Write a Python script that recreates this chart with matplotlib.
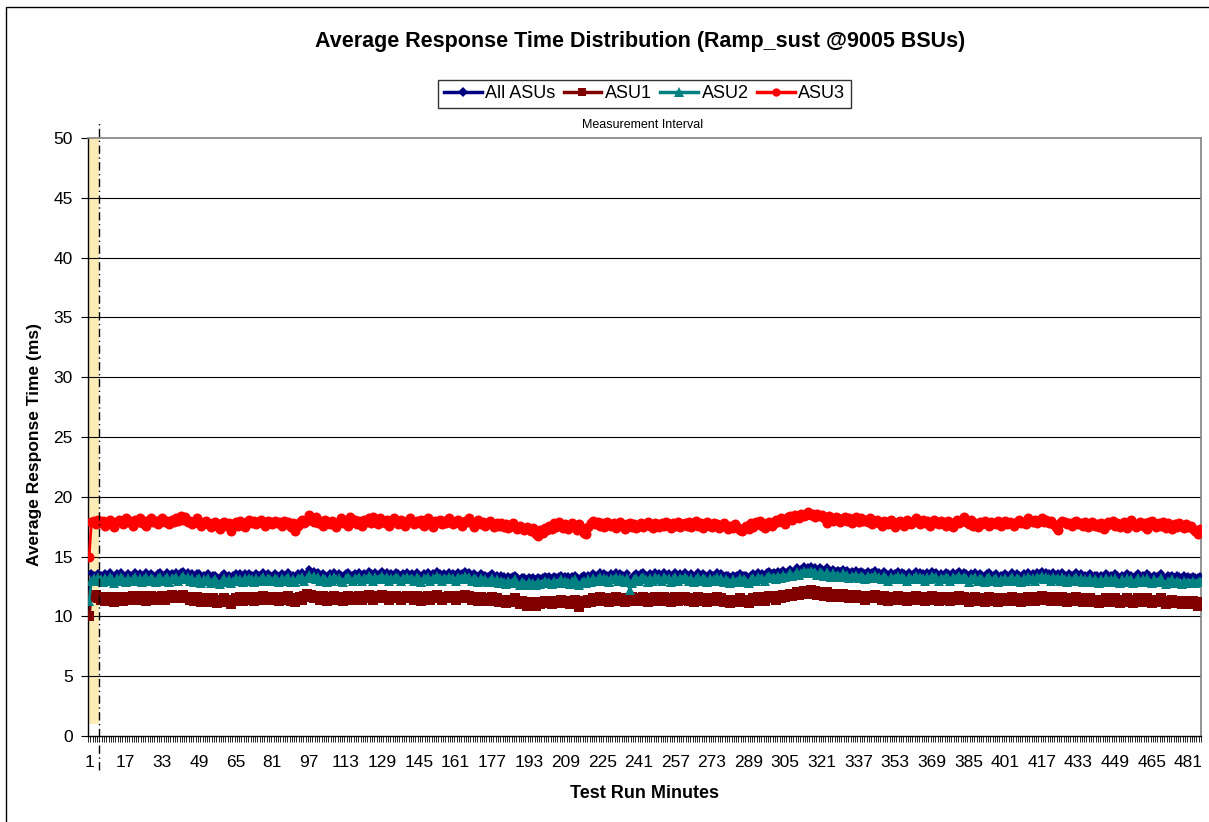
import matplotlib
matplotlib.use("Agg")
import matplotlib.pyplot as plt
from matplotlib.patches import Rectangle

plt.rcParams['font.family'] = ['Liberation Sans', 'DejaVu Sans']

title = "Average Response Time Distribution (Ramp_sust @9005 BSUs)"
xlabel = "Test Run Minutes"
ylabel = "Average Response Time (ms)"
interval_label = "Measurement Interval"
series_names = ["All ASUs", "ASU1", "ASU2", "ASU3"]
ramp_minutes = 5
band_low, band_high = 1, 50

all_asus = [
    11.5, 13.6, 13.5, 13.4, 13.6, 13.5, 13.3, 13.6, 13.4, 13.7, 13.5, 13.3, 13.6, 13.4, 13.7, 13.5, 13.3, 13.6, 13.5, 13.5,
    13.7, 13.4, 13.6, 13.4, 13.5, 13.7, 13.4, 13.6, 13.5, 13.4, 13.6, 13.7, 13.5, 13.5, 13.7, 13.4, 13.6, 13.5, 13.7, 13.5,
    13.7, 13.8, 13.5, 13.7, 13.4, 13.6, 13.3, 13.6, 13.6, 13.3, 13.5, 13.4, 13.6, 13.3, 13.5, 13.5, 13.3, 13.2, 13.5, 13.6,
    13.4, 13.5, 13.2, 13.5, 13.6, 13.4, 13.6, 13.4, 13.6, 13.5, 13.6, 13.5, 13.4, 13.6, 13.5, 13.5, 13.7, 13.4, 13.6, 13.5,
    13.4, 13.6, 13.5, 13.4, 13.6, 13.5, 13.5, 13.7, 13.4, 13.5, 13.3, 13.6, 13.5, 13.7, 13.5, 13.6, 14.0, 13.7, 13.8, 13.6,
    13.7, 13.5, 13.6, 13.5, 13.4, 13.6, 13.5, 13.7, 13.5, 13.6, 13.5, 13.4, 13.6, 13.7, 13.5, 13.5, 13.6, 13.5, 13.7, 13.5,
    13.6, 13.5, 13.8, 13.6, 13.5, 13.7, 13.5, 13.6, 13.8, 13.5, 13.7, 13.5, 13.6, 13.5, 13.7, 13.6, 13.5, 13.6, 13.5, 13.7,
    13.5, 13.6, 13.5, 13.7, 13.5, 13.4, 13.6, 13.5, 13.7, 13.5, 13.6, 13.5, 13.8, 13.6, 13.5, 13.6, 13.5, 13.7, 13.5, 13.6,
    13.5, 13.7, 13.5, 13.6, 13.8, 13.5, 13.7, 13.5, 13.6, 13.5, 13.4, 13.6, 13.5, 13.5, 13.4, 13.5, 13.6, 13.4, 13.5, 13.3,
    13.5, 13.4, 13.2, 13.4, 13.3, 13.4, 13.5, 13.3, 13.1, 13.3, 13.3, 13.1, 13.3, 13.2, 13.3, 13.1, 13.3, 13.2, 13.3, 13.4,
    13.3, 13.4, 13.2, 13.4, 13.3, 13.4, 13.5, 13.3, 13.4, 13.4, 13.2, 13.4, 13.5, 13.3, 13.1, 13.4, 13.5, 13.3, 13.5, 13.4,
    13.6, 13.5, 13.5, 13.7, 13.5, 13.6, 13.5, 13.4, 13.6, 13.5, 13.7, 13.5, 13.6, 13.5, 13.4, 13.6, 13.0, 13.3, 13.5, 13.6,
    13.5, 13.6, 13.7, 13.5, 13.4, 13.6, 13.5, 13.7, 13.5, 13.6, 13.5, 13.7, 13.5, 13.6, 13.4, 13.5, 13.7, 13.5, 13.6, 13.5,
    13.7, 13.5, 13.5, 13.6, 13.4, 13.5, 13.7, 13.5, 13.6, 13.5, 13.4, 13.6, 13.5, 13.5, 13.7, 13.5, 13.6, 13.4, 13.5, 13.5,
    13.3, 13.5, 13.4, 13.5, 13.6, 13.4, 13.5, 13.5, 13.3, 13.5, 13.6, 13.5, 13.7, 13.5, 13.6, 13.5, 13.7, 13.8, 13.6, 13.7,
    13.6, 13.8, 13.7, 13.9, 13.7, 13.8, 14.0, 13.8, 13.9, 14.1, 13.9, 14.0, 14.2, 14.0, 14.1, 14.2, 14.0, 14.1, 13.9, 14.1,
    14.0, 13.8, 14.1, 13.9, 13.8, 14.0, 13.8, 13.9, 13.8, 14.0, 13.8, 13.9, 13.7, 13.8, 13.7, 13.9, 13.7, 13.8, 13.7, 13.6,
    13.8, 13.6, 13.7, 13.9, 13.6, 13.7, 13.5, 13.8, 13.6, 13.5, 13.7, 13.5, 13.6, 13.8, 13.5, 13.7, 13.6, 13.5, 13.7, 13.5,
    13.6, 13.8, 13.5, 13.7, 13.6, 13.5, 13.7, 13.5, 13.8, 13.6, 13.7, 13.5, 13.6, 13.5, 13.7, 13.6, 13.5, 13.7, 13.5, 13.6,
    13.8, 13.5, 13.7, 13.6, 13.4, 13.6, 13.5, 13.7, 13.5, 13.6, 13.5, 13.4, 13.6, 13.7, 13.5, 13.5, 13.6, 13.4, 13.5, 13.5,
    13.6, 13.5, 13.5, 13.7, 13.5, 13.6, 13.5, 13.4, 13.6, 13.5, 13.7, 13.5, 13.6, 13.5, 13.7, 13.6, 13.8, 13.5, 13.7, 13.6,
    13.5, 13.7, 13.5, 13.6, 13.5, 13.7, 13.5, 13.4, 13.6, 13.5, 13.5, 13.7, 13.5, 13.6, 13.4, 13.5, 13.5, 13.6, 13.4, 13.5,
    13.5, 13.3, 13.5, 13.4, 13.6, 13.5, 13.5, 13.4, 13.6, 13.5, 13.3, 13.5, 13.4, 13.6, 13.5, 13.5, 13.3, 13.5, 13.6, 13.4,
    13.5, 13.4, 13.6, 13.5, 13.3, 13.5, 13.4, 13.5, 13.6, 13.4, 13.2, 13.5, 13.4, 13.5, 13.3, 13.5, 13.4, 13.3, 13.5, 13.3,
    13.4, 13.3, 13.4, 13.3, 13.3, 13.4,
]

asu1 = [
    10.0, 11.7, 11.6, 11.8, 11.5, 11.4, 11.6, 11.3, 11.5, 11.4, 11.6, 11.2, 11.5, 11.6, 11.4, 11.3, 11.5, 11.6, 11.4, 11.7,
    11.5, 11.6, 11.4, 11.7, 11.5, 11.3, 11.6, 11.7, 11.5, 11.4, 11.6, 11.5, 11.7, 11.4, 11.6, 11.5, 11.8, 11.6, 11.5, 11.7,
    11.6, 11.8, 11.5, 11.6, 11.4, 11.5, 11.3, 11.6, 11.4, 11.2, 11.5, 11.3, 11.4, 11.2, 11.5, 11.3, 11.1, 11.4, 11.2, 11.5,
    11.3, 11.4, 11.0, 11.3, 11.5, 11.4, 11.6, 11.3, 11.5, 11.4, 11.6, 11.5, 11.3, 11.6, 11.4, 11.5, 11.7, 11.4, 11.6, 11.5,
    11.4, 11.6, 11.5, 11.3, 11.6, 11.4, 11.5, 11.7, 11.3, 11.5, 11.2, 11.5, 11.6, 11.4, 11.7, 11.9, 11.6, 11.8, 11.5, 11.7,
    11.6, 11.4, 11.7, 11.5, 11.3, 11.6, 11.5, 11.7, 11.4, 11.6, 11.5, 11.3, 11.6, 11.7, 11.5, 11.4, 11.6, 11.5, 11.7, 11.4,
    11.6, 11.5, 11.8, 11.6, 11.4, 11.7, 11.5, 11.6, 11.8, 11.5, 11.7, 11.4, 11.6, 11.5, 11.7, 11.6, 11.4, 11.6, 11.5, 11.7,
    11.5, 11.6, 11.4, 11.7, 11.5, 11.3, 11.6, 11.5, 11.7, 11.4, 11.6, 11.5, 11.8, 11.6, 11.4, 11.6, 11.5, 11.7, 11.5, 11.6,
    11.4, 11.7, 11.5, 11.6, 11.8, 11.5, 11.7, 11.4, 11.6, 11.5, 11.3, 11.6, 11.4, 11.5, 11.3, 11.4, 11.6, 11.3, 11.5, 11.2,
    11.4, 11.3, 11.1, 11.4, 11.2, 11.3, 11.5, 11.2, 11.0, 11.3, 11.1, 10.9, 11.2, 11.0, 11.1, 10.9, 11.2, 11.0, 11.1, 11.3,
    11.1, 11.2, 11.0, 11.3, 11.1, 11.2, 11.4, 11.1, 11.3, 11.2, 11.0, 11.3, 11.4, 11.1, 10.8, 11.2, 11.3, 11.1, 11.4, 11.2,
    11.5, 11.3, 11.4, 11.6, 11.3, 11.5, 11.4, 11.2, 11.5, 11.4, 11.6, 11.3, 11.5, 11.4, 11.2, 11.5, 11.3, 11.6, 11.4, 11.5,
    11.3, 11.5, 11.6, 11.4, 11.2, 11.5, 11.3, 11.6, 11.4, 11.5, 11.3, 11.6, 11.4, 11.5, 11.2, 11.4, 11.6, 11.3, 11.5, 11.4,
    11.6, 11.4, 11.3, 11.5, 11.2, 11.4, 11.6, 11.3, 11.5, 11.4, 11.2, 11.5, 11.3, 11.4, 11.6, 11.3, 11.5, 11.2, 11.4, 11.3,
    11.1, 11.4, 11.2, 11.3, 11.5, 11.2, 11.4, 11.3, 11.1, 11.4, 11.5, 11.3, 11.6, 11.4, 11.5, 11.3, 11.6, 11.7, 11.5, 11.6,
    11.4, 11.7, 11.5, 11.8, 11.6, 11.7, 11.9, 11.7, 11.8, 12.0, 11.8, 11.9, 12.1, 11.9, 12.0, 12.2, 11.9, 12.1, 11.8, 12.0,
    11.9, 11.7, 12.0, 11.8, 11.6, 11.9, 11.7, 11.8, 11.6, 11.9, 11.7, 11.8, 11.5, 11.7, 11.6, 11.8, 11.5, 11.7, 11.6, 11.4,
    11.7, 11.5, 11.6, 11.8, 11.5, 11.6, 11.4, 11.7, 11.5, 11.3, 11.6, 11.4, 11.5, 11.7, 11.4, 11.6, 11.5, 11.3, 11.6, 11.4,
    11.5, 11.7, 11.4, 11.6, 11.5, 11.3, 11.6, 11.4, 11.7, 11.5, 11.6, 11.3, 11.5, 11.4, 11.6, 11.5, 11.3, 11.6, 11.4, 11.5,
    11.7, 11.4, 11.6, 11.5, 11.2, 11.5, 11.4, 11.6, 11.3, 11.5, 11.4, 11.2, 11.5, 11.6, 11.3, 11.4, 11.5, 11.2, 11.4, 11.3,
    11.5, 11.3, 11.4, 11.6, 11.3, 11.5, 11.4, 11.2, 11.5, 11.3, 11.6, 11.4, 11.5, 11.3, 11.6, 11.5, 11.7, 11.4, 11.6, 11.5,
    11.3, 11.6, 11.4, 11.5, 11.3, 11.6, 11.4, 11.2, 11.5, 11.3, 11.4, 11.6, 11.3, 11.5, 11.2, 11.4, 11.3, 11.5, 11.2, 11.4,
    11.3, 11.1, 11.4, 11.2, 11.5, 11.3, 11.4, 11.2, 11.5, 11.3, 11.1, 11.4, 11.2, 11.5, 11.3, 11.4, 11.1, 11.3, 11.5, 11.2,
    11.4, 11.2, 11.5, 11.3, 11.1, 11.4, 11.2, 11.3, 11.5, 11.2, 11.0, 11.3, 11.2, 11.4, 11.1, 11.3, 11.2, 11.0, 11.3, 11.1,
    11.2, 11.0, 11.3, 11.1, 10.9, 11.2,
]

asu2 = [
    11.3, 13.0, 13.2, 13.0, 13.3, 13.1, 12.9, 13.2, 13.0, 13.3, 13.1, 12.8, 13.2, 13.0, 13.3, 13.1, 12.9, 13.2, 13.0, 13.1,
    13.3, 13.0, 13.2, 12.9, 13.1, 13.3, 13.0, 13.2, 13.1, 12.9, 13.2, 13.3, 13.0, 13.1, 13.3, 12.9, 13.2, 13.1, 13.3, 13.0,
    13.2, 13.4, 13.1, 13.3, 13.0, 13.2, 12.9, 13.1, 13.2, 12.8, 13.1, 13.0, 13.2, 12.8, 13.0, 13.1, 12.9, 12.7, 13.0, 13.2,
    12.9, 13.1, 12.8, 13.0, 13.2, 13.0, 13.1, 12.9, 13.2, 13.0, 13.2, 13.1, 12.9, 13.2, 13.0, 13.1, 13.3, 13.0, 13.2, 13.1,
    13.0, 13.2, 13.1, 12.9, 13.2, 13.0, 13.1, 13.3, 12.9, 13.1, 12.9, 13.2, 13.1, 13.3, 13.0, 13.2, 13.5, 13.2, 13.4, 13.1,
    13.3, 13.0, 13.2, 13.1, 12.9, 13.2, 13.0, 13.3, 13.1, 13.2, 13.0, 12.9, 13.2, 13.3, 13.1, 13.0, 13.2, 13.1, 13.3, 13.0,
    13.2, 13.1, 13.4, 13.2, 13.0, 13.3, 13.1, 13.2, 13.4, 13.1, 13.3, 13.0, 13.2, 13.1, 13.3, 13.2, 13.0, 13.2, 13.1, 13.3,
    13.1, 13.2, 13.0, 13.3, 13.1, 12.9, 13.2, 13.1, 13.3, 13.0, 13.2, 13.1, 13.4, 13.2, 13.0, 13.2, 13.1, 13.3, 13.1, 13.2,
    13.0, 13.3, 13.1, 13.2, 13.4, 13.1, 13.3, 13.0, 13.2, 13.1, 12.9, 13.2, 13.0, 13.1, 12.9, 13.0, 13.2, 12.9, 13.1, 12.8,
    13.0, 12.9, 12.7, 13.0, 12.8, 12.9, 13.1, 12.8, 12.6, 12.9, 12.8, 12.6, 12.9, 12.7, 12.8, 12.6, 12.9, 12.7, 12.8, 13.0,
    12.8, 12.9, 12.7, 13.0, 12.8, 12.9, 13.1, 12.8, 13.0, 12.9, 12.7, 13.0, 13.1, 12.8, 12.6, 12.9, 13.0, 12.8, 13.1, 12.9,
    13.2, 13.0, 13.1, 13.3, 13.0, 13.2, 13.1, 12.9, 13.2, 13.1, 13.3, 13.0, 13.2, 13.1, 12.9, 13.2, 12.2, 12.8, 13.1, 13.2,
    13.0, 13.2, 13.3, 13.1, 12.9, 13.2, 13.0, 13.3, 13.1, 13.2, 13.0, 13.3, 13.1, 13.2, 12.9, 13.1, 13.3, 13.0, 13.2, 13.1,
    13.3, 13.1, 13.0, 13.2, 12.9, 13.1, 13.3, 13.0, 13.2, 13.1, 12.9, 13.2, 13.0, 13.1, 13.3, 13.0, 13.2, 12.9, 13.1, 13.0,
    12.8, 13.1, 12.9, 13.0, 13.2, 12.9, 13.1, 13.0, 12.8, 13.1, 13.2, 13.0, 13.3, 13.1, 13.2, 13.0, 13.3, 13.4, 13.2, 13.3,
    13.1, 13.4, 13.2, 13.5, 13.3, 13.4, 13.6, 13.4, 13.5, 13.7, 13.5, 13.6, 13.8, 13.6, 13.7, 13.8, 13.6, 13.7, 13.5, 13.7,
    13.6, 13.4, 13.7, 13.5, 13.3, 13.6, 13.4, 13.5, 13.3, 13.6, 13.4, 13.5, 13.2, 13.4, 13.3, 13.5, 13.2, 13.4, 13.3, 13.1,
    13.4, 13.2, 13.3, 13.5, 13.2, 13.3, 13.1, 13.4, 13.2, 13.0, 13.3, 13.1, 13.2, 13.4, 13.1, 13.3, 13.2, 13.0, 13.3, 13.1,
    13.2, 13.4, 13.1, 13.3, 13.2, 13.0, 13.3, 13.1, 13.4, 13.2, 13.3, 13.0, 13.2, 13.1, 13.3, 13.2, 13.0, 13.3, 13.1, 13.2,
    13.4, 13.1, 13.3, 13.2, 12.9, 13.2, 13.1, 13.3, 13.0, 13.2, 13.1, 12.9, 13.2, 13.3, 13.0, 13.1, 13.2, 12.9, 13.1, 13.0,
    13.2, 13.0, 13.1, 13.3, 13.0, 13.2, 13.1, 12.9, 13.2, 13.0, 13.3, 13.1, 13.2, 13.0, 13.3, 13.2, 13.4, 13.1, 13.3, 13.2,
    13.0, 13.3, 13.1, 13.2, 13.0, 13.3, 13.1, 12.9, 13.2, 13.0, 13.1, 13.3, 13.0, 13.2, 12.9, 13.1, 13.0, 13.2, 12.9, 13.1,
    13.0, 12.8, 13.1, 12.9, 13.2, 13.0, 13.1, 12.9, 13.2, 13.0, 12.8, 13.1, 12.9, 13.2, 13.0, 13.1, 12.8, 13.0, 13.2, 12.9,
    13.1, 12.9, 13.2, 13.0, 12.8, 13.1, 12.9, 13.0, 13.2, 12.9, 12.7, 13.0, 12.9, 13.1, 12.8, 13.0, 12.9, 12.7, 13.0, 12.8,
    12.9, 12.8, 13.0, 12.8, 12.9, 13.0,
]

asu3 = [
    15.0, 17.9, 18.0, 17.7, 18.1, 17.8, 18.0, 17.6, 17.9, 18.1, 17.8, 17.5, 17.9, 18.1, 18.0, 17.7, 18.2, 17.9, 18.0, 17.6,
    18.1, 17.9, 18.2, 17.8, 18.0, 17.6, 18.1, 18.2, 17.9, 18.0, 17.7, 18.1, 18.2, 17.9, 18.0, 17.7, 18.1, 17.9, 18.2, 18.0,
    18.4, 18.1, 18.3, 17.9, 18.0, 17.7, 17.9, 18.2, 17.8, 17.6, 17.9, 18.0, 17.7, 17.5, 17.8, 17.9, 17.6, 17.3, 17.8, 17.9,
    17.6, 17.8, 17.1, 17.7, 17.9, 17.6, 18.0, 17.8, 17.5, 17.9, 18.1, 17.8, 18.0, 17.7, 17.9, 18.1, 17.8, 17.6, 18.0, 17.9,
    17.7, 18.0, 17.8, 17.9, 17.6, 18.0, 17.8, 17.9, 17.5, 17.8, 17.1, 17.6, 17.9, 18.1, 17.8, 18.0, 18.5, 18.2, 17.9, 18.3,
    17.8, 18.0, 17.6, 18.1, 17.9, 17.7, 18.0, 17.8, 17.5, 17.9, 18.2, 17.8, 18.0, 17.6, 18.3, 17.9, 18.1, 17.7, 18.0, 17.6,
    18.1, 17.9, 18.2, 17.8, 18.3, 17.9, 17.7, 18.2, 18.0, 17.8, 18.1, 17.6, 17.9, 18.2, 18.0, 17.7, 18.1, 17.9, 17.6, 18.0,
    18.2, 17.9, 17.7, 18.0, 17.8, 18.1, 17.6, 17.9, 18.2, 17.8, 17.5, 18.0, 17.9, 18.1, 17.7, 18.0, 17.8, 18.2, 17.9, 17.7,
    18.0, 18.1, 17.8, 17.6, 18.0, 17.9, 18.2, 17.8, 17.5, 17.9, 18.1, 17.7, 17.9, 17.6, 17.8, 18.0, 17.7, 17.5, 17.8, 17.6,
    17.8, 17.5, 17.7, 17.4, 17.6, 17.8, 17.5, 17.3, 17.6, 17.4, 17.2, 17.5, 17.3, 17.1, 17.4, 16.9, 16.7, 17.2, 17.0, 17.4,
    17.2, 17.6, 17.3, 17.8, 17.5, 17.9, 17.6, 17.4, 17.7, 17.3, 17.6, 17.8, 17.5, 17.2, 17.7, 17.4, 17.0, 16.9, 17.5, 17.8,
    18.0, 17.7, 17.9, 17.6, 17.8, 17.5, 17.9, 17.7, 17.6, 17.8, 17.4, 17.7, 17.9, 17.6, 17.3, 17.7, 17.8, 17.5, 17.7, 17.4,
    17.6, 17.8, 17.5, 17.7, 17.9, 17.6, 17.4, 17.8, 17.7, 17.5, 17.8, 17.6, 17.9, 17.7, 17.4, 17.8, 17.6, 17.9, 17.5, 17.7,
    17.8, 17.6, 17.9, 17.5, 17.7, 18.0, 17.6, 17.8, 17.4, 17.7, 17.9, 17.6, 17.5, 17.8, 17.7, 17.4, 17.6, 17.8, 17.5, 17.3,
    17.6, 17.4, 17.7, 17.5, 17.2, 17.1, 17.4, 17.6, 17.3, 17.8, 17.5, 17.9, 17.7, 18.0, 17.6, 17.4, 17.8, 17.9, 17.6, 17.8,
    18.1, 17.9, 18.2, 18.0, 17.7, 18.3, 18.4, 18.1, 18.5, 18.3, 18.2, 18.6, 18.4, 18.5, 18.7, 18.5, 18.6, 18.3, 18.6, 18.4,
    18.5, 18.2, 17.8, 18.4, 18.1, 18.0, 18.3, 18.2, 17.9, 18.1, 18.3, 18.0, 18.2, 17.8, 18.1, 18.3, 17.9, 18.2, 18.0, 18.1,
    17.9, 18.2, 17.7, 18.0, 18.1, 17.8, 17.6, 18.0, 17.9, 17.7, 18.1, 17.8, 17.5, 17.9, 18.0, 17.8, 17.6, 18.1, 17.9, 17.7,
    18.0, 18.2, 17.9, 17.7, 18.1, 17.8, 18.0, 17.6, 17.9, 18.1, 17.8, 17.7, 18.0, 17.9, 17.6, 18.0, 17.8, 17.5, 17.9, 18.1,
    17.8, 18.0, 18.3, 17.9, 17.7, 18.1, 17.6, 17.8, 17.5, 17.9, 17.7, 18.0, 17.8, 17.6, 17.9, 17.8, 17.7, 18.0, 17.6, 17.8,
    18.0, 17.7, 17.9, 17.8, 17.6, 17.9, 18.1, 17.8, 17.9, 17.7, 18.2, 18.0, 17.9, 18.1, 17.8, 18.0, 18.2, 17.9, 18.1, 17.8,
    18.0, 17.7, 17.5, 17.2, 17.8, 18.0, 17.9, 17.7, 17.8, 17.6, 17.9, 18.0, 17.7, 17.8, 17.6, 17.9, 17.5, 17.7, 17.9, 17.6,
    17.7, 17.5, 17.8, 17.3, 17.6, 17.9, 17.7, 18.0, 17.6, 17.8, 17.5, 17.7, 17.9, 17.4, 17.7, 18.1, 17.8, 17.5, 17.7, 17.9,
    17.6, 17.8, 17.3, 17.9, 18.0, 17.7, 17.5, 17.8, 17.6, 17.9, 17.4, 17.8, 17.6, 17.3, 17.7, 17.5, 17.8, 17.6, 17.4, 17.7,
    17.5, 17.6, 17.3, 17.1, 16.9, 17.3,
]

minutes = list(range(1, len(asu3) + 1))
n = len(minutes)
tick_labels = [m for m in minutes if (m - 1) % 16 == 0]

W, H = 1209, 822
fig = plt.figure(figsize=(W / 100, H / 100), dpi=100)
ax = fig.add_axes([88 / W, 1 - 736 / H, 1113 / W, 598 / H])

# outer chart border
fig.patches.append(Rectangle((6 / W, -0.01), 1.0, 1 - 7 / H + 0.01, transform=fig.transFigure,
                             fill=False, edgecolor='black', linewidth=1.0))

# ramp-up band
ax.fill_between([0.5, ramp_minutes + 0.5], band_low, band_high, color='#FCEBB4', zorder=1, linewidth=0)

# gridlines
for yv in range(5, 50, 5):
    ax.axhline(yv, color='black', linewidth=0.8, zorder=1.5)

styles = [
    dict(color='#000080', marker='D', ms=4.0, lw=2.0, lms=5.0),
    dict(color='#800000', marker='s', ms=6.8, lw=2.0, lms=6.0),
    dict(color='#008080', marker='^', ms=7.5, lw=2.0, lms=6.5),
    dict(color='#FF0000', marker='o', ms=7.2, lw=2.0, lms=6.0),
]
data = [all_asus, asu1, asu2, asu3]
lines = []
for name, vals, st in zip(series_names, data, styles):
    h, = ax.plot(minutes, vals, color=st['color'], marker=st['marker'], markersize=st['ms'],
                 linewidth=st['lw'], markeredgewidth=0, label=name, zorder=3)
    lines.append(h)

# measurement interval line
ax.plot([ramp_minutes + 0.5, ramp_minutes + 0.5], [-2.85, 51.45], color='black', linewidth=1.0,
        linestyle=(0, (6, 2.5, 1, 2.5)), clip_on=False, zorder=4)
fig.text(643 / W, 1 - 125 / H, interval_label, fontsize=9, ha='center', va='center')

ax.set_xlim(0.5, n + 0.5)
ax.set_ylim(0, 50)
ax.set_yticks(range(0, 51, 5))
ax.set_xticks(tick_labels)
ax.set_xticklabels([str(t) for t in tick_labels], fontsize=12.5)
ax.set_xticks([m + 0.5 for m in range(0, n + 1)], minor=True)
ax.tick_params(axis='x', which='major', length=0, pad=14)
ax.tick_params(axis='x', which='minor', length=4.5, width=0.6, color='black')
ax.tick_params(axis='y', which='major', length=5, width=0.8, labelsize=12.5, pad=6)

for s in ['top', 'right']:
    ax.spines[s].set_color('#808080')
    ax.spines[s].set_linewidth(1.2)
for s in ['left', 'bottom']:
    ax.spines[s].set_color('black')
    ax.spines[s].set_linewidth(1.0)
ax.set_facecolor('white')

fig.text(640 / W, 1 - 42 / H, title, fontsize=15.5, fontweight='bold', ha='center', va='center')
fig.text(645 / W, 1 - 793 / H, xlabel, fontsize=13, fontweight='bold', ha='center', va='center')
fig.text(35 / W, 1 - 445 / H, ylabel, fontsize=12.5, fontweight='bold', ha='center', va='center', rotation=90)

# legend handles built from the same style table
from matplotlib.lines import Line2D
leg_handles = [Line2D([], [], color=st['color'], marker=st['marker'], markersize=st['lms'],
                      linewidth=2.5, markeredgewidth=0) for st in styles]
leg = fig.legend(handles=leg_handles, labels=series_names, loc='center', bbox_to_anchor=(644.5 / W, 1 - 94 / H),
                 ncol=4, frameon=True, fancybox=False, fontsize=13, handlelength=2.1, handletextpad=0.2,
                 columnspacing=0.45, borderpad=0.3, borderaxespad=0)
leg.get_frame().set_edgecolor('black')
leg.get_frame().set_linewidth(1.0)

fig.savefig('out.png', dpi=100)
